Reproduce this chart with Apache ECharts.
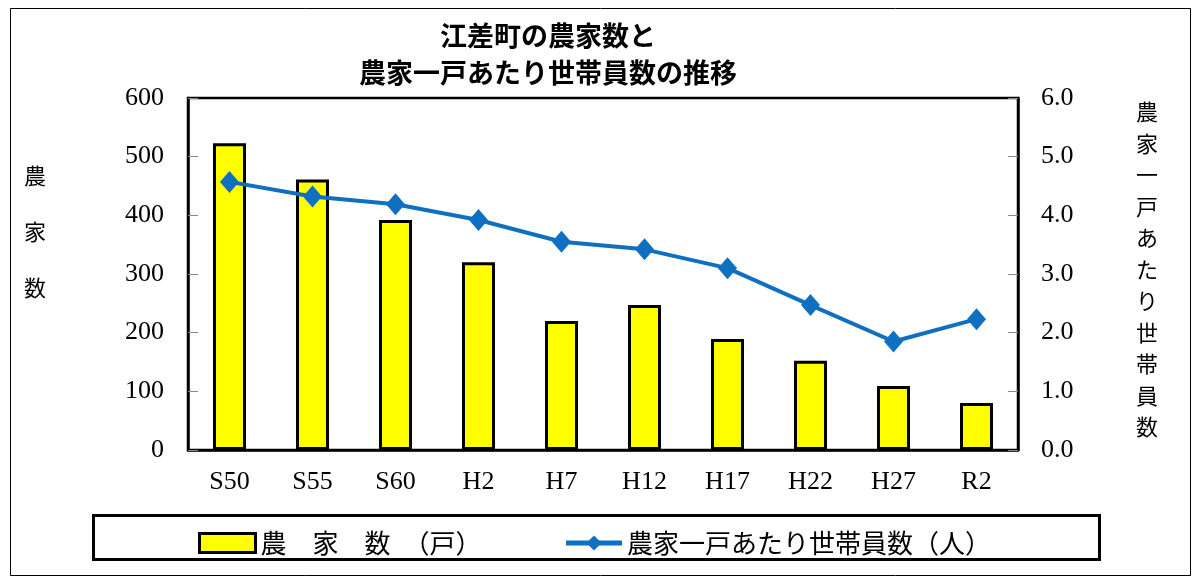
<!DOCTYPE html>
<html>
<head>
<meta charset="utf-8">
<script src="https://cdn.jsdelivr.net/npm/echarts@6/dist/echarts.min.js"></script>
<style>
html,body{margin:0;padding:0;background:#fff;}
#c{width:1200px;height:582px;}
</style>
</head>
<body>
<div id="c"></div>
<script>
var categories = ['S50','S55','S60','H2','H7','H12','H17','H22','H27','R2'];
var farmHouseholds = [523, 461, 392, 320, 220, 247, 189, 152, 109, 80];
var membersPerHousehold = [4.57, 4.32, 4.19, 3.92, 3.55, 3.42, 3.10, 2.47, 1.85, 2.23];
var leftTicks = [0, 600, 100];
var rightTicks = [0, 6, 1];
var titleLines = ['江差町の農家数と', '農家一戸あたり世帯員数の推移'];
var leftName = '農家数';
var rightName = '農家一戸あたり世帯員数';
var barLegend = '農　家　数　（戸）';
var lineLegend = '農家一戸あたり世帯員数（人）';

var cjk = '"Noto Sans CJK JP", "Noto Sans", sans-serif';
var serifNum = '"Liberation Serif", "DejaVu Serif", serif';

var chart = echarts.init(document.getElementById('c'), null, {renderer: 'canvas'});
chart.setOption({
  backgroundColor: '#ffffff',
  animation: false,
  grid: {left: 188, right: 182, top: 98, bottom: 132, show: true, borderColor: '#000', borderWidth: 2.5, backgroundColor: 'transparent'},
  legend: {
    left: 193, top: 525, itemWidth: 56, itemHeight: 19, itemGap: 82,
    textStyle: {fontFamily: cjk, fontSize: 26, color: '#000'},
    data: [
      {name: barLegend, icon: 'rect', itemStyle: {color: '#ffff00', borderColor: '#000', borderWidth: 3}},
      {name: lineLegend, lineStyle: {color: '#0f6fc0', width: 5}, itemStyle: {color: '#0f6fc0'}}
    ]
  },
  xAxis: {
    type: 'category', data: categories,
    axisLine: {show: true, lineStyle: {color: '#000', width: 2.5}},
    axisTick: {show: true, inside: true, alignWithLabel: true, length: 7, lineStyle: {color: '#999'}},
    axisLabel: {fontFamily: serifNum, fontSize: 26, color: '#000', margin: 19}
  },
  yAxis: [
    {
      type: 'value', min: leftTicks[0], max: leftTicks[1], interval: leftTicks[2],
      splitLine: {show: false},
      axisLine: {show: true, lineStyle: {color: '#000', width: 2.5}},
      axisTick: {show: true, inside: true, length: 10, lineStyle: {color: '#888'}},
      axisLabel: {fontFamily: serifNum, fontSize: 26, color: '#000', margin: 24}
    },
    {
      type: 'value', min: rightTicks[0], max: rightTicks[1], interval: rightTicks[2],
      splitLine: {show: false},
      axisLine: {show: true, lineStyle: {color: '#000', width: 2.5}},
      axisTick: {show: true, inside: true, length: 10, lineStyle: {color: '#888'}},
      axisLabel: {fontFamily: serifNum, fontSize: 26, color: '#000', margin: 23,
        formatter: function (v) { return v.toFixed(1); }}
    }
  ],
  series: [
    {
      name: barLegend, type: 'bar', yAxisIndex: 0, data: farmHouseholds, barWidth: 33,
      itemStyle: {color: '#ffff00', borderColor: '#000', borderWidth: 3}
    },
    {
      name: lineLegend, type: 'line', yAxisIndex: 1, data: membersPerHousehold,
      symbol: 'diamond', symbolSize: [19, 22],
      lineStyle: {color: '#0f6fc0', width: 4},
      itemStyle: {color: '#0f6fc0'}
    }
  ],
  graphic: [
    {type: 'rect', shape: {x: 10.5, y: 8.5, width: 1180, height: 567}, style: {fill: 'none', stroke: '#000', lineWidth: 1}, silent: true, z: -1},
    {type: 'rect', shape: {x: 93.5, y: 515.5, width: 1006, height: 44}, style: {fill: 'none', stroke: '#000', lineWidth: 3}, silent: true, z: -1},
    {type: 'text', style: {text: titleLines.join('\n'), x: 548, y: 17, textAlign: 'center', textVerticalAlign: 'top', font: 'bold 27px ' + cjk, fill: '#000', lineHeight: 37}},
    {type: 'text', style: {text: leftName.split('').join('\n'), x: 35, y: 148, textAlign: 'center', textVerticalAlign: 'top', font: '22px ' + cjk, fill: '#000', lineHeight: 56}},
    {type: 'text', style: {text: rightName.split('').join('\n'), x: 1147, y: 96, textAlign: 'center', textVerticalAlign: 'top', font: '22px ' + cjk, fill: '#000', lineHeight: 31.5}}
  ]
});
</script>
</body>
</html>
